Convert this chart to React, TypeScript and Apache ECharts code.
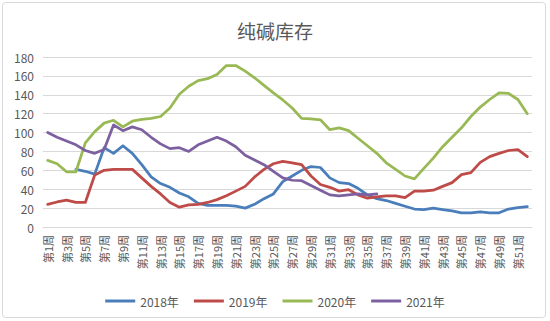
import React, { useEffect, useRef } from "react";
import * as echarts from "echarts";

const categories = [
  "第1周","第2周","第3周","第4周","第5周","第6周","第7周","第8周","第9周","第10周",
  "第11周","第12周","第13周","第14周","第15周","第16周","第17周","第18周","第19周","第20周",
  "第21周","第22周","第23周","第24周","第25周","第26周","第27周","第28周","第29周","第30周",
  "第31周","第32周","第33周","第34周","第35周","第36周","第37周","第38周","第39周","第40周",
  "第41周","第42周","第43周","第44周","第45周","第46周","第47周","第48周","第49周","第50周",
  "第51周","第52周",
];

const seriesNames = ["2018年", "2019年", "2020年", "2021年"];

const data2018: (number | null)[] = [
  null, null, null, 61, 59, 56, 84, 78, 86, 78,
  66, 53, 46, 42, 36, 32, 25, 23, 23, 23,
  22, 20, 24, 30, 35, 48, 54, 60, 64, 63,
  52, 47, 46, 41, 34, 30, 28, 25, 22, 19,
  18.5, 20, 18.5, 17, 15, 15, 16, 15, 15, 19,
  20.5, 21.5,
];

const data2019: (number | null)[] = [
  24, 26.5, 28.5, 26, 26, 55, 60, 61, 61, 61,
  52, 43, 35, 26, 21, 23.5, 24, 26, 29, 33,
  38, 43, 53, 61, 67, 69.5, 68, 66, 54, 45,
  42, 38, 39.5, 34, 30.5, 32, 33, 33, 31, 38,
  38, 39, 43, 47, 55.5, 57.5, 68.5, 74.5, 78, 81,
  82, 74.5,
];

const data2020: (number | null)[] = [
  70.5, 67, 58.5, 58.5, 89, 101, 110, 113, 106, 112,
  114, 115, 117, 126, 140.5, 149, 155, 157, 161.5, 171,
  171, 165, 158, 150, 142, 134.5, 126, 115, 114.5, 113.5,
  103, 105, 102, 94, 86, 78, 68, 61, 54, 51,
  62, 73, 85, 95, 105, 117, 127, 135, 142, 141.5,
  135, 120,
];

const data2021: (number | null)[] = [
  100, 95, 91, 87, 81, 78, 82, 108, 102, 106,
  103, 95, 88, 83, 84, 80, 87, 91, 95, 91,
  85, 76, 71, 66, 59, 52, 49.5, 49, 44, 39,
  34, 33, 34, 35, 34, 35,
];

const colors = ["#4A7EBB", "#BE4B48", "#98B954", "#7D60A0"];

const FONT = '"Noto Sans CJK SC", "Noto Sans", sans-serif';

export default function App() {
  const ref = useRef<HTMLDivElement>(null);

  useEffect(() => {
    if (!ref.current) return;
    const chart = echarts.init(ref.current, undefined, { renderer: "svg" });
    const all = [data2018, data2019, data2020, data2021];
    chart.setOption({
      animation: false,
      backgroundColor: "#ffffff",
      textStyle: { fontFamily: FONT },
      title: {
        text: "纯碱库存",
        left: "center",
        top: 16,
        textStyle: { fontFamily: FONT, fontSize: 19, fontWeight: "normal", color: "#595959" },
      },
      graphic: [
        {
          type: "rect",
          shape: { x: 2.5, y: 2.5, width: 543, height: 315, r: 3 },
          style: { fill: "none", stroke: "#d9d9d9", lineWidth: 1 },
          silent: true,
          z: -1,
        },
      ],
      legend: {
        top: 290,
        left: "center",
        icon: "rect",
        itemWidth: 30,
        itemHeight: 3,
        itemGap: 15,
        data: seriesNames,
        textStyle: { fontFamily: FONT, fontSize: 12, color: "#595959" },
      },
      grid: { left: 43, right: 18, top: 57, bottom: 94, containLabel: false },
      xAxis: {
        type: "category",
        data: categories,
        boundaryGap: true,
        axisLine: { show: true, lineStyle: { color: "#d9d9d9", width: 1 } },
        axisTick: { show: false },
        axisLabel: {
          interval: 1,
          rotate: 90,
          margin: 8,
          fontSize: 11,
          color: "#595959",
          fontFamily: FONT,
        },
      },
      yAxis: {
        type: "value",
        min: 0,
        max: 180,
        interval: 20,
        axisLine: { show: false },
        axisTick: { show: false },
        splitLine: { lineStyle: { color: "#d9d9d9", width: 1 } },
        axisLabel: { fontSize: 12, color: "#595959", margin: 9, fontFamily: FONT },
      },
      series: seriesNames.map((name, i) => ({
        name,
        type: "line",
        data: all[i],
        showSymbol: false,
        symbol: "none",
        smooth: false,
        connectNulls: false,
        lineStyle: { color: colors[i], width: 2.75, cap: "round", join: "round" },
        itemStyle: { color: colors[i] },
      })),
    });
    return () => chart.dispose();
  }, []);

  return (
    <div
      ref={ref}
      style={{ position: "absolute", left: 0, top: 0, width: 550, height: 321 }}
    />
  );
}
